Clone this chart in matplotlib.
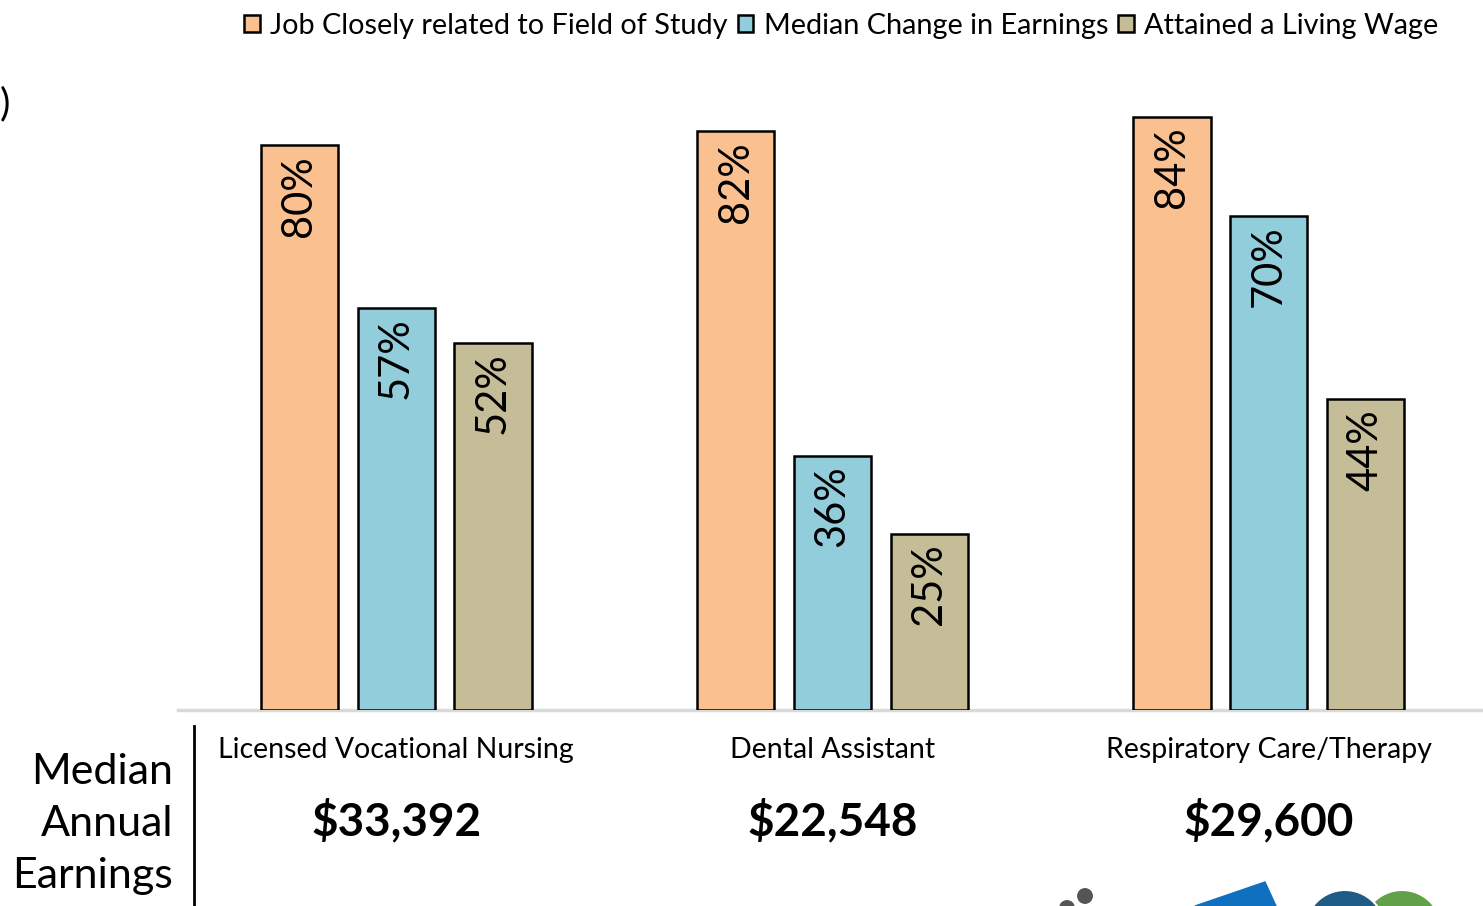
import matplotlib
matplotlib.use("Agg")
import matplotlib.pyplot as plt
import numpy as np
from matplotlib.patches import Circle, Polygon

plt.rcParams['font.family'] = ['Lato', 'DejaVu Sans']

categories = ["Licensed Vocational Nursing", "Dental Assistant", "Respiratory Care/Therapy"]
earnings = ["$33,392", "$22,548", "$29,600"]
series_names = ["Job Closely related to Field of Study", "Median Change in Earnings", "Attained a Living Wage"]
job_related = [80, 82, 84]
earnings_change = [57, 36, 70]
living_wage = [52, 25, 44]
colors = ["#FAC090", "#92CDDC", "#C4BD97"]

W, H = 1483, 906
fig = plt.figure(figsize=(W / 100, H / 100), dpi=100)

def fx(px):
    return px / W

def fy(py):
    return 1 - py / H

AX_L, AX_R = 178, 1487
ax = fig.add_axes([fx(AX_L), fy(710), fx(AX_R) - fx(AX_L), fy(4) - fy(710)])
x = np.arange(len(categories))
width = 0.177
step = 0.222
handles = []
for i, (vals, col, name) in enumerate(zip([job_related, earnings_change, living_wage], colors, series_names)):
    bars = ax.bar(x + (i - 1) * step, vals, width, color=col, edgecolor="black", linewidth=1.8, label=name, zorder=3)
    handles.append(bars)
    for b, v in zip(bars, vals):
        ax.annotate(f"{v}%", (b.get_x() + b.get_width() / 2, v), xytext=(0, -7), textcoords="offset points",
                    rotation=90, ha="center", va="top", fontsize=30, color="black")

ax.set_xlim(-0.5, 2.5)
ax.set_ylim(0, 100)
ax.axis("off")
ax.axhline(0, color="#d9d9d9", linewidth=2.5, zorder=2, clip_on=False)

fig.legend(handles=handles, labels=series_names, loc="upper right", bbox_to_anchor=(fx(1450), fy(1)), ncol=3,
           frameon=False, fontsize=20.8, handlelength=0.55, handleheight=0.55, handletextpad=0.35,
           columnspacing=0.35, borderaxespad=0)

# clipped remnant text at top-left
fig.text(0, fy(104), ")", ha="left", va="center", fontsize=28)

# category labels and earnings
for xi, cat, earn in zip(x, categories, earnings):
    xf = fx(AX_L) + (xi + 0.5) / 3 * (fx(AX_R) - fx(AX_L))
    fig.text(xf, fy(750), cat, ha="center", va="center", fontsize=20.5)
    fig.text(xf, fy(821), earn, ha="center", va="center", fontsize=33, fontweight="bold")

fig.text(fx(173), fy(824), "Median\nAnnual\nEarnings", ha="right", va="center", fontsize=31, linespacing=1.45)
fig.add_artist(plt.Line2D([fx(194), fx(194)], [fy(726), fy(906)], color="black", linewidth=2, transform=fig.transFigure))

# partial logos at the bottom (pixel coordinates -> inches)
def pin(px, py):
    return (px / 100, (H - py) / 100)

for cx, cy, r, c in [(1085, 896, 9, "#555555"), (1067, 908, 9, "#555555"),
                     (1402, 930, 40, "#62A04A"), (1345, 930, 40, "#1F5C85")]:
    fig.add_artist(Circle(pin(cx, cy), r / 100, transform=fig.dpi_scale_trans, facecolor=c,
                          edgecolor="white", linewidth=1.5, zorder=1))
fig.add_artist(Polygon([pin(1195, 906), pin(1265, 882), pin(1276, 906)], closed=True,
                       transform=fig.dpi_scale_trans, color="#0F70C0"))

fig.savefig("out.png", dpi=100)
